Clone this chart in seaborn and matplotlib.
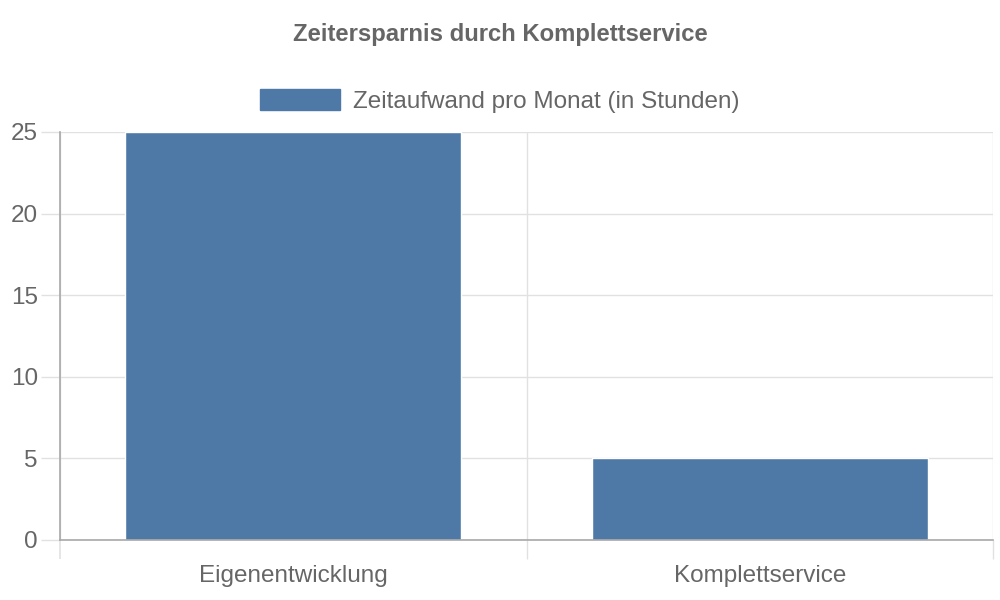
import pandas as pd
import matplotlib.pyplot as plt
import seaborn as sns

# chart data
categories = ['Eigenentwicklung', 'Komplettservice']
hours = [25, 5]
series_name = 'Zeitaufwand pro Monat (in Stunden)'

df = pd.DataFrame({'kategorie': categories, 'stunden': hours, 'serie': series_name})

sns.set_style('white')
plt.rcParams['font.family'] = ['Liberation Sans', 'DejaVu Sans']

text_col = '#666666'
grid_col = '#e1e1e1'
axis_col = '#a8a8a8'
bar_col = '#4e79a7'

fig = plt.figure(figsize=(10, 6), dpi=100)
ax = fig.add_axes([0.06, 0.10, 0.933, 0.68])

sns.barplot(x='kategorie', y='stunden', hue='serie', data=df, ax=ax,
            palette=[bar_col], saturation=1, width=0.72, dodge=False, legend=False)

ax.set_xlim(-0.5, 1.5)
ax.set_ylim(0, 25)
ax.set_yticks([0, 5, 10, 15, 20, 25])
ax.set_xlabel('')
ax.set_ylabel('')

# category boundary lines like the original
ax.set_xticks([-0.5, 0.5, 1.5], minor=True)
ax.grid(True, axis='x', which='minor', color=grid_col, linewidth=1)
ax.grid(True, axis='y', which='major', color=grid_col, linewidth=1)
ax.set_axisbelow(True)
ax.tick_params(axis='x', which='major', bottom=True, length=0, labelsize=17.5,
               labelcolor=text_col, pad=18)
ax.tick_params(axis='x', which='minor', bottom=True, length=14, color=grid_col, width=1)
ax.tick_params(axis='y', left=True, length=14, color=grid_col, width=1, labelsize=17.5,
               labelcolor=text_col, pad=2)
# the tick under the y axis keeps the axis colour
ax.xaxis.get_minor_ticks()[0].tick1line.set_color(axis_col)
ax.xaxis.get_minor_ticks()[0].tick1line.set_markeredgewidth(1.2)

for side in ['top', 'right']:
    ax.spines[side].set_visible(False)
for side in ['left', 'bottom']:
    ax.spines[side].set_color(axis_col)
    ax.spines[side].set_linewidth(1.2)

fig.text(0.5, 0.943, 'Zeitersparnis durch Komplettservice', ha='center', va='center',
         fontsize=17.2, fontweight='bold', color=text_col)

handle = plt.Rectangle((0, 0), 1, 1, color=bar_col)
fig.legend([handle], [series_name], loc='center', bbox_to_anchor=(0.5, 0.832),
           frameon=False, fontsize=17.5, labelcolor=text_col,
           handlelength=3.3, handleheight=1.0, handletextpad=0.53)

fig.savefig('out.png', dpi=100)
